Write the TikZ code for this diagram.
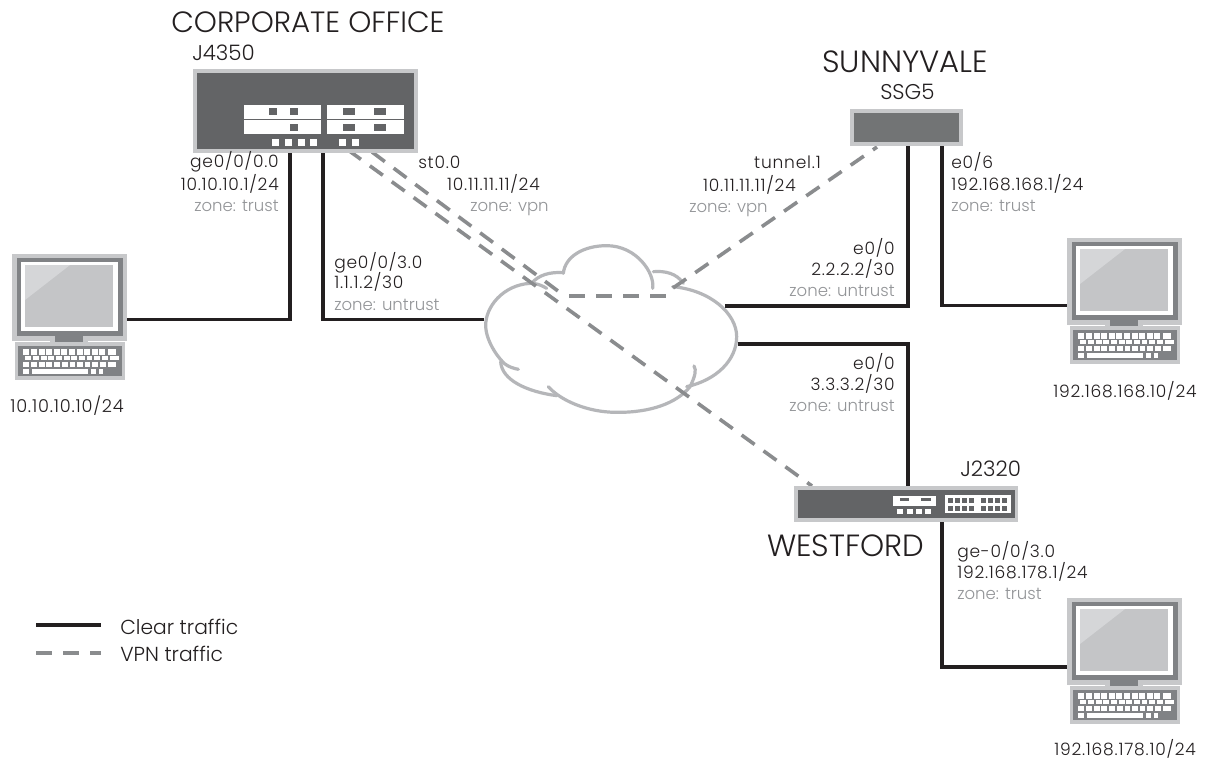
\documentclass[tikz,border=0pt]{standalone}
\usepackage{fontspec}
\setmainfont{Poppins Light}
\newfontfamily\ipfont[LetterSpace=4.6]{Poppins Light}
\definecolor{ink}{HTML}{231F20}
\definecolor{vpn}{HTML}{8A8C8E}
\definecolor{zonec}{HTML}{939598}
\definecolor{frame}{HTML}{C7C8CA}
\definecolor{body}{HTML}{636466}
\definecolor{cloudc}{HTML}{B5B6B9}
\definecolor{lapdark}{HTML}{808285}
\definecolor{screenc}{HTML}{C4C5C7}
\definecolor{glare}{HTML}{D5D6D8}
\newcommand{\px}[1]{\fontsize{#1}{#1}\selectfont}
\newcommand{\whitebox}[4]{\fill[white] (#1,#2) rectangle (#3,#4);}
\newcommand{\darkbox}[4]{\fill[body] (#1,#2) rectangle (#3,#4);}
\newcommand{\keyrow}[3]{\foreach \a/\b in {#3} {\fill[white] (\a,#1) rectangle (\b,#2);}}
\newcommand{\laptop}[3]{%
  \begin{scope}[shift={(#1,#2)}]
    \node[rectangle,fill=frame,minimum width=86.25pt,minimum height=65.25pt,inner sep=0pt] (#3) at (69.5,297.5) {};
    \fill[frame] (15,342) rectangle (125,380);
    \fill[frame] (50,341) rectangle (88,343);
    \fill[lapdark] (17,258) rectangle (123,336);
    \fill[white] (21,262) rectangle (118,331);
    \fill[screenc] (25,265) rectangle (113,327);
    \fill[glare] (25,265) -- (70,265) -- (25,300) -- cycle;
    \fill[lapdark] (55,336) rectangle (83,342);
    \fill[lapdark] (18,346) rectangle (122,376);
    \keyrow{349}{354.5}{23/29,31/37,38.5/44.5,46/52,53.5/59.5,61/67,69/75,76.5/82.5,84/90,91.5/97.5,99/105,108/116}
    \keyrow{355.5}{360}{25/31,33/39,40.5/46.5,48/54,56/62,64/69.5,71/77,79/85,87/92,94/100,102/108,110/119}
    \keyrow{361.5}{366.5}{23/29,31/37,38.5/44.5,46/52,54/60,61.5/67.5,69.5/75,77/83,84.5/90,92/98,100/106,108/116}
    \keyrow{369}{374}{23/29,32/88,91/96,99/103}
  \end{scope}}
\tikzset{
  clear/.style={draw=ink,line width=2.7pt},
  vpnline/.style={draw=vpn,line width=2.7pt,dash pattern=on 12pt off 8.25pt},
  lbl/.style={inner sep=0pt,text=ink,font=\ipfont\px{12.8pt}},
  zone/.style={inner sep=0pt,text=zonec,font=\px{12.4pt}},
  site/.style={inner sep=0pt,text=ink,font=\px{23pt}},
  dev/.style={inner sep=0pt,text=ink,font=\px{16pt}},
  leg/.style={inner sep=0pt,text=ink,font=\px{15.2pt}},
  cloudline/.style={draw=cloudc,line width=2.4pt,line cap=round,fill=none},
}
\begin{document}
\begin{tikzpicture}[x=0.75pt,y=-0.75pt]
\useasboundingbox (0,0) rectangle (1213,760);
\fill[white] (0,0) rectangle (1213,760);
% named attachment points
\coordinate (p1) at (127,319.5);
\coordinate (p2) at (290,319.5);
\coordinate (j1) at (290,153);
\coordinate (j2) at (323,153);
\coordinate (p3) at (323,319.5);
\coordinate (c1) at (484,319.5);
\coordinate (c2) at (725,306);
\coordinate (p4) at (908,306);
\coordinate (s1) at (908,146);
\coordinate (s2) at (942,146);
\coordinate (p5) at (942,305.5);
\coordinate (l2) at (1067,305.5);
\coordinate (c3) at (738,344);
\coordinate (p6) at (908,344);
\coordinate (w1) at (908,486);
\coordinate (w2) at (942,522);
\coordinate (p7) at (942,667);
\coordinate (l3) at (1067,667);
\coordinate (v1) at (348,150);
\coordinate (v2) at (812,486);
\coordinate (v3) at (372,152);
\coordinate (v4) at (558,291);
\coordinate (v5) at (569,296);
\coordinate (v6) at (666,296);
\coordinate (v7) at (673,288);
\coordinate (v8) at (877,147);
% clear traffic
\draw[clear] (p1) -- (p2) -- (j1);
\draw[clear] (j2) -- (p3) -- (c1);
\draw[clear] (c2) -- (p4) -- (s1);
\draw[clear] (s2) -- (p5) -- (l2);
\draw[clear] (c3) -- (p6) -- (w1);
\draw[clear] (w2) -- (p7) -- (l3);
% cloud
\begin{scope}[shift={(470,230)},x=0.25pt,y=-0.25pt]
  \draw[cloudline] (230,175) .. controls (205,160) and (190,160) .. (180,160) .. controls (100,165) and (45,230) .. (47,290) .. controls (50,340) and (90,390) .. (105,402) .. controls (115,410) and (130,415) .. (145,418);
  \draw[cloudline] (92,395) .. controls (95,450) and (170,485) .. (260,497);
  \draw[cloudline] (235,470) .. controls (270,510) and (350,547) .. (440,547) .. controls (540,548) and (620,520) .. (660,470) .. controls (675,440) and (680,420) .. (672,408);
  \draw[cloudline] (650,470) .. controls (740,450) and (800,390) .. (800,320) .. controls (800,250) and (720,180) .. (608,170);
  \draw[cloudline] (640,160) .. controls (620,130) and (585,122) .. (550,125);
  \draw[cloudline] (548,175) .. controls (555,130) and (500,47) .. (410,47) .. controls (340,47) and (285,80) .. (280,130);
  \draw[cloudline] (280,128) .. controls (240,125) and (205,135) .. (185,160);
\end{scope}
% vpn
\draw[vpnline] (v1) -- (v2);
\draw[vpnline] (v3) -- (v4);
\draw[vpnline] (v5) -- (v6);
\draw[vpnline] (v7) -- (v8);
% J4350
\node[rectangle,fill=frame,minimum width=168.75pt,minimum height=63pt,inner sep=0pt] (corp) at (305.5,111) {};
\fill[body] (197,73) rectangle (414,149);
\whitebox{244}{105}{321}{118.7}\whitebox{244}{120}{321}{134}
\whitebox{327}{105}{404}{118.7}\whitebox{327}{120}{404}{134}
\darkbox{269}{108}{277}{115}\darkbox{290}{108}{298}{115}\darkbox{290}{124}{298}{131}
\darkbox{343}{108}{355}{115}\darkbox{374}{108}{386}{115}\darkbox{343}{124}{355}{131}\darkbox{374}{124}{386}{131}
\foreach \a in {272,285,298,310,339,352} {\whitebox{\a}{139}{\a+7}{146}}
% SSG5
\node[rectangle,fill=frame,minimum width=84.75pt,minimum height=27.75pt,inner sep=0pt] (ssg) at (906.5,127.5) {};
\fill[body!90!white] (854,113) rectangle (959,142);
% J2320
\node[rectangle,fill=frame,minimum width=168pt,minimum height=27pt,inner sep=0pt] (j2320) at (906,504) {};
\fill[body] (798,490) rectangle (1015,518);
\whitebox{893}{496}{936}{506}
\darkbox{900}{498}{909}{501}\darkbox{921}{498}{931}{501}
\foreach \a in {897,907,916,925} {\whitebox{\a}{508.5}{\a+6}{514}}
\whitebox{945}{495}{1011}{513}
\foreach \a in {948,955,962,968.5,981,988,995,1002} {\darkbox{\a}{498}{\a+5}{503}\darkbox{\a}{506}{\a+5}{511}}
% laptops
\laptop{0}{0}{pc1}
\laptop{1055}{-16}{pc2}
\laptop{1055}{344}{pc3}
% titles
\node[site,font=\px{22pt},anchor=base west] (t1) at (171,32) {CORPORATE OFFICE};
\node[site,anchor=base west] (t2) at (822,72) {SUNNYVALE};
\node[site,anchor=base west] (t3) at (767,556) {WESTFORD};
\node[dev,anchor=base west] (d1) at (192,60) {J4350};
\node[dev,anchor=base west] (d2) at (880,99) {SSG5};
\node[dev,anchor=base west] (d3) at (960,476) {J2320};
% labels
\node[lbl,anchor=base east] (a1) at (279,167) {ge0/0/0.0};
\node[lbl,anchor=base east] (a2) at (279,190) {10.10.10.1/24};
\node[zone,anchor=base east] (a3) at (279,211) {zone: trust};
\node[lbl,anchor=base west] (b1) at (418,168) {st0.0};
\node[lbl,anchor=base east] (b2) at (540,190) {10.11.11.11/24};
\node[zone,anchor=base west] (b3) at (470,211) {zone: vpn};
\node[lbl,anchor=base west] (c1t) at (334,268) {ge0/0/3.0};
\node[lbl,anchor=base west] (c2t) at (334,288) {1.1.1.2/30};
\node[zone,anchor=base west] (c3t) at (334,310) {zone: untrust};
\node[lbl,anchor=base east] (e1) at (821,168) {tunnel.1};
\node[lbl,anchor=base east] (e2) at (796,191) {10.11.11.11/24};
\node[zone,anchor=base west] (e3) at (689,212) {zone: vpn};
\node[lbl,anchor=base east] (f1) at (895,254) {e0/0};
\node[lbl,anchor=base east] (f2) at (895,275) {2.2.2.2/30};
\node[zone,anchor=base east] (f3) at (895,296) {zone: untrust};
\node[lbl,anchor=base west] (g1) at (951,168) {e0/6};
\node[lbl,anchor=base west] (g2) at (951,190) {192.168.168.1/24};
\node[zone,anchor=base west] (g3) at (951,211) {zone: trust};
\node[lbl,anchor=base east] (h1) at (895,369) {e0/0};
\node[lbl,anchor=base east] (h2) at (895,390) {3.3.3.2/30};
\node[zone,anchor=base east] (h3) at (895,411) {zone: untrust};
\node[lbl,anchor=base west] (i1) at (957,557) {ge-0/0/3.0};
\node[lbl,anchor=base west] (i2) at (957,578) {192.168.178.1/24};
\node[zone,anchor=base west] (i3) at (957,599) {zone: trust};
\node[lbl,font=\ipfont\px{13.3pt},anchor=base west] (k1) at (10,412) {10.10.10.10/24};
\node[lbl,anchor=base west] (k2) at (1053,397) {192.168.168.10/24};
\node[lbl,anchor=base west] (k3) at (1054,755) {192.168.178.10/24};
% legend
\coordinate (la) at (36,625); \coordinate (lb) at (101,625);
\coordinate (lc) at (36,653); \coordinate (ld) at (101,653);
\draw[clear] (la) -- (lb);
\draw[vpnline] (lc) -- (ld);
\node[leg,anchor=base west] (l1) at (120,634) {Clear traffic};
\node[leg,anchor=base west] (l2t) at (120,661) {VPN traffic};
\end{tikzpicture}
\end{document}
